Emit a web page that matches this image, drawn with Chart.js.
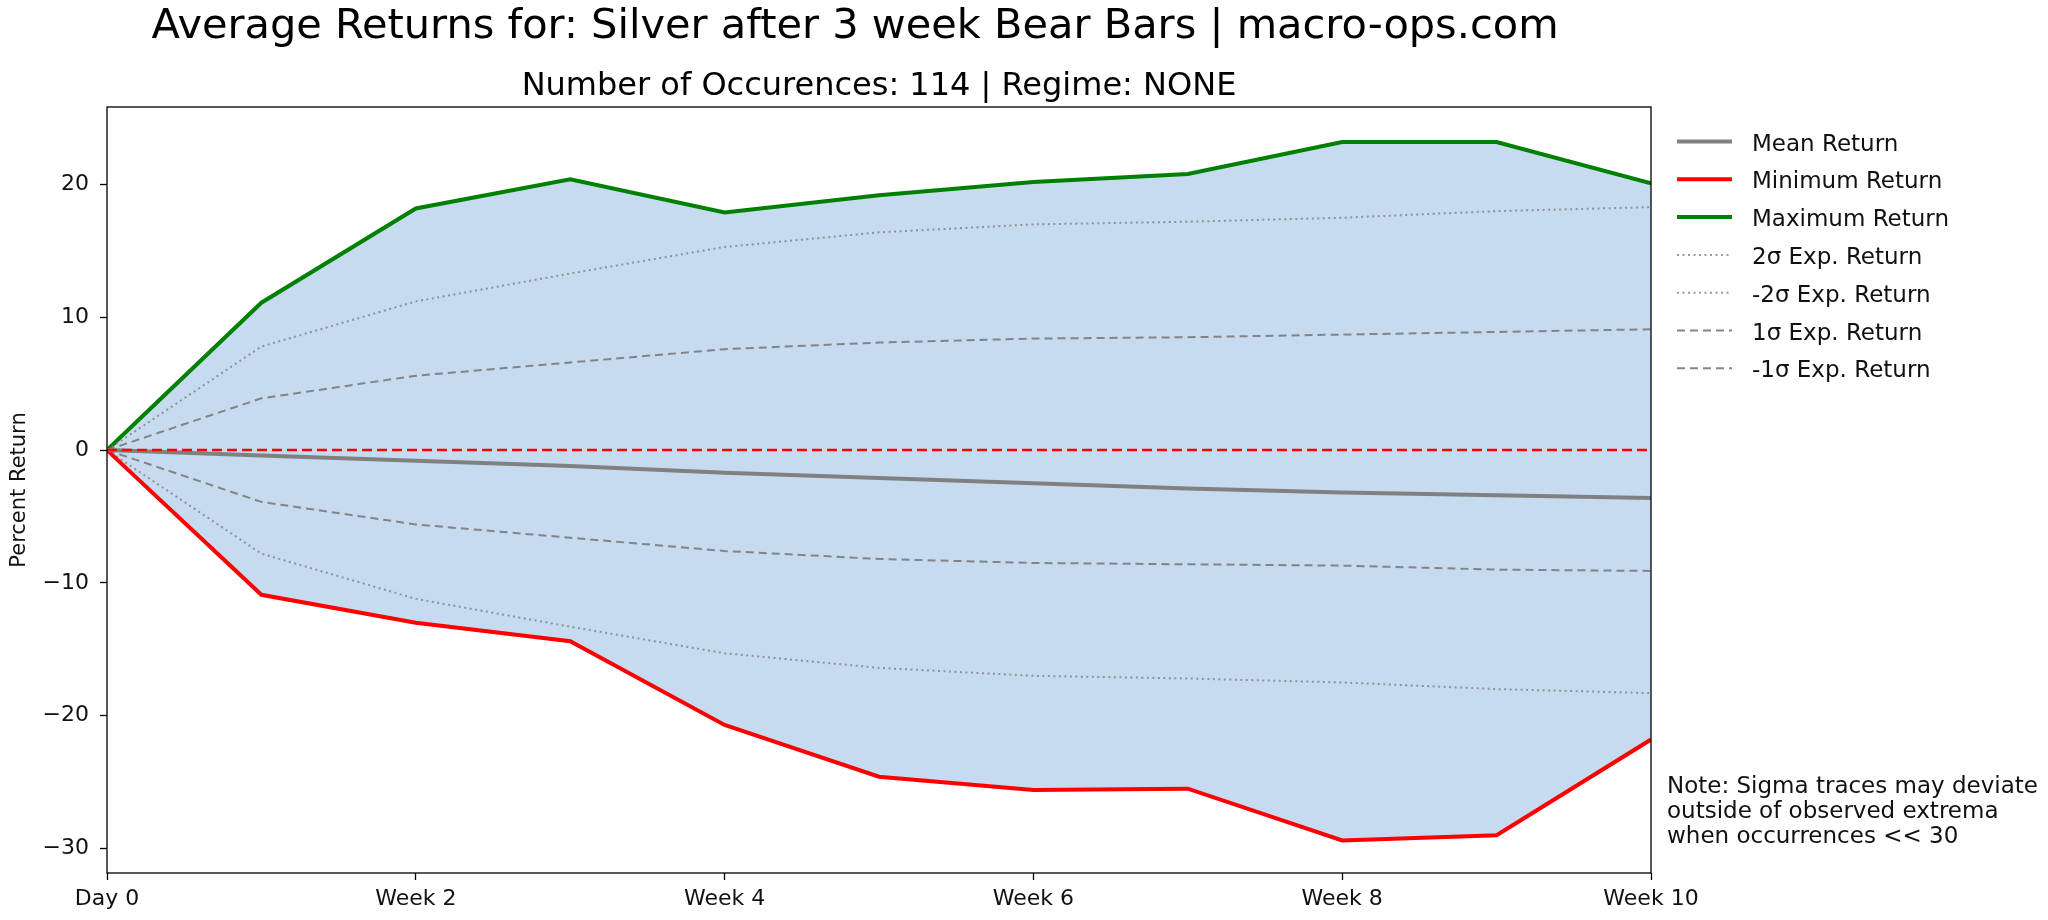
<!DOCTYPE html>
<html lang="en">
<head>
    <meta charset="UTF-8">
    <title>Average Returns for: Silver after 3 week Bear Bars</title>
    <script src="https://cdn.jsdelivr.net/npm/chart.js"></script>
    <style>
      body { margin: 0; background: #fff; }
    </style>
</head>
<body>
      <div style="width: 2048px; height: 920px;">
        <canvas id="myChart"></canvas>
      </div>

      <script>
        const ctx = document.getElementById('myChart');
        const fam = '"DejaVu Sans", sans-serif';

        // weeks after the signal (0 = Day 0)
        let weeks = [0, 1, 2, 3, 4, 5, 6, 7, 8, 9, 10]
        let xTicks = [0, 2, 4, 6, 8, 10]
        let xTickLabels = ['Day 0', 'Week 2', 'Week 4', 'Week 6', 'Week 8', 'Week 10']
        let yTicks = [-30, -20, -10, 0, 10, 20]

        let meanReturn = [0, -0.4, -0.8, -1.2, -1.7, -2.1, -2.5, -2.9, -3.2, -3.4, -3.6]
        let minReturn  = [0, -10.9, -13.0, -14.4, -20.7, -24.6, -25.6, -25.5, -29.4, -29.0, -21.8]
        let maxReturn  = [0, 11.1, 18.2, 20.4, 17.9, 19.2, 20.2, 20.8, 23.2, 23.2, 20.1]
        let plus2Sigma  = [0, 7.8, 11.2, 13.3, 15.3, 16.4, 17.0, 17.2, 17.5, 18.0, 18.3]
        let minus2Sigma = [0, -7.8, -11.2, -13.3, -15.3, -16.4, -17.0, -17.2, -17.5, -18.0, -18.3]
        let plus1Sigma  = [0, 3.9, 5.6, 6.6, 7.6, 8.1, 8.4, 8.5, 8.7, 8.9, 9.1]
        let minus1Sigma = [0, -3.9, -5.6, -6.6, -7.6, -8.2, -8.5, -8.6, -8.7, -9.0, -9.1]
        let zeroLine    = [0, 0, 0, 0, 0, 0, 0, 0, 0, 0, 0]

        const mainTitle = 'Average Returns for: Silver after 3 week Bear Bars | macro-ops.com'
        const noteLines = ['Note: Sigma traces may deviate', 'outside of observed extrema', 'when occurrences << 30']

        // figure title, frame around the plot, legend and note (matplotlib style)
        const extras = {
          id: 'extras',
          afterDraw(chart) {
            const c = chart.ctx, a = chart.chartArea;
            c.save();
            c.fillStyle = '#000';
            c.font = '41.5px ' + fam;
            c.textAlign = 'center';
            c.textBaseline = 'alphabetic';
            c.fillText(mainTitle, 855, 38);
            c.textAlign = 'left';

            c.strokeStyle = '#000';
            c.lineWidth = 1.3;
            c.strokeRect(a.left, a.top, a.right - a.left, a.bottom - a.top);

            c.font = '23px ' + fam;
            c.fillStyle = '#111';
            const items = chart.data.datasets.filter(d => d.inLegend);
            items.forEach((d, i) => {
              const y = 141.5 + i * 37.8;
              c.beginPath();
              c.strokeStyle = d.borderColor;
              c.lineWidth = d.borderWidth;
              c.setLineDash(d.borderDash || []);
              c.moveTo(a.right + 26, y);
              c.lineTo(a.right + 81, y);
              c.stroke();
              c.setLineDash([]);
              c.fillText(d.label, a.right + 101, y + 9);
            });

            noteLines.forEach((t, i) => c.fillText(t, a.right + 16, 793 + i * 25));
            c.restore();
          }
        };

        let grafico1 = new Chart(ctx, {
          type: 'line',
          data: {
            labels: weeks,
            datasets: [
              { label: 'Zero', data: zeroLine, borderColor: '#ff0000', borderWidth: 2.5, borderDash: [10, 5], order: 0 },
              { label: 'Mean Return', data: meanReturn, borderColor: '#808080', borderWidth: 4, order: 1, inLegend: true },
              { label: 'Minimum Return', data: minReturn, borderColor: '#ff0000', borderWidth: 4, order: 2, inLegend: true },
              { label: 'Maximum Return', data: maxReturn, borderColor: '#008000', borderWidth: 4, order: 9, inLegend: true,
                fill: { target: 2 }, backgroundColor: '#c6dbef' },
              { label: '2σ Exp. Return', data: plus2Sigma, borderColor: 'rgba(128,128,128,0.8)', borderWidth: 2, borderDash: [2, 3.5], order: 3, inLegend: true },
              { label: '-2σ Exp. Return', data: minus2Sigma, borderColor: 'rgba(128,128,128,0.8)', borderWidth: 2, borderDash: [2, 3.5], order: 3, inLegend: true },
              { label: '1σ Exp. Return', data: plus1Sigma, borderColor: 'rgba(128,128,128,0.95)', borderWidth: 2, borderDash: [8, 5], order: 3, inLegend: true },
              { label: '-1σ Exp. Return', data: minus1Sigma, borderColor: 'rgba(128,128,128,0.95)', borderWidth: 2, borderDash: [8, 5], order: 3, inLegend: true }
            ]
          },
          options: {
            responsive: true,
            maintainAspectRatio: false,
            devicePixelRatio: 1,
            animation: false,
            elements: { point: { radius: 0 }, line: { tension: 0 } },
            layout: { padding: { left: 0, right: 397, top: 51.9, bottom: 0 } },
            plugins: {
              legend: { display: false },
              tooltip: { enabled: false },
              title: { display: false },
              subtitle: {
                display: true, fullSize: false,
                text: 'Number of Occurences: 114 | Regime: NONE',
                color: '#000', font: { family: fam, size: 32, weight: 'normal' },
                padding: { top: 15.2, bottom: 1.5 }
              }
            },
            scales: {
              x: {
                type: 'linear', min: 0, max: 10,
                afterFit: s => { s.height = 47 },
                afterBuildTicks: s => { s.ticks = xTicks.map(v => ({ value: v })) },
                grid: { drawOnChartArea: false, drawTicks: true, tickLength: 7, color: '#000', tickWidth: 1.3 },
                border: { display: false },
                ticks: {
                  color: '#111', font: { family: fam, size: 22 }, padding: 6, maxRotation: 0,
                  callback: v => xTickLabels[xTicks.indexOf(v)]
                }
              },
              y: {
                min: -31.85, max: 25.84,
                afterFit: s => { s.width = 107 },
                afterBuildTicks: s => { s.ticks = yTicks.map(v => ({ value: v })) },
                grid: { drawOnChartArea: false, drawTicks: true, tickLength: 7, color: '#000', tickWidth: 1.3 },
                border: { display: false },
                title: { display: true, text: 'Percent Return', color: '#111', font: { family: fam, size: 21 }, padding: { top: 7, bottom: 0 } },
                ticks: {
                  color: '#111', font: { family: fam, size: 22 }, padding: 11,
                  callback: v => v < 0 ? '\u2212' + Math.abs(v) : '' + v
                }
              }
            }
          },
          plugins: [extras]
        });
      </script>
</body>
</html>
